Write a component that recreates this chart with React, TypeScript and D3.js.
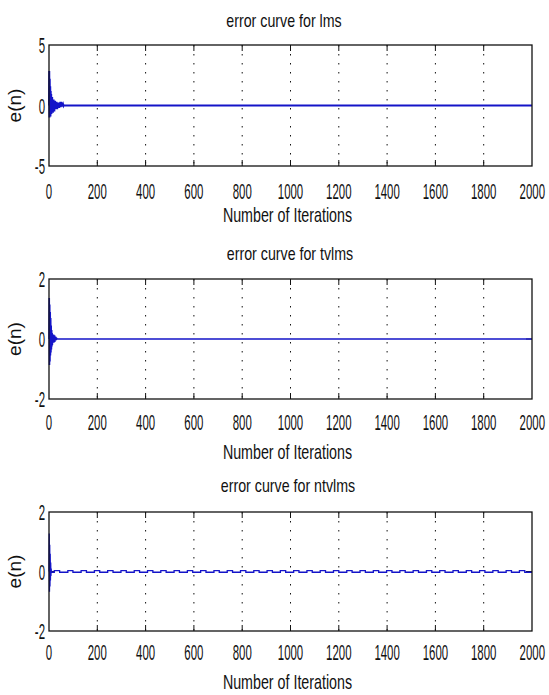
import * as d3 from 'd3'

const W = 549
const H = 695

const xTicks = [0, 200, 400, 600, 800, 1000, 1200, 1400, 1600, 1800, 2000]
const xEnd = 2000

// e(n) for the first iterations; after these the error is flat at 0
const lmsStart = [
  0, 2.85, -1.0, 2.2, -0.85, 1.6, -0.9, 1.2, -0.65, 0.95, -0.7, 0.6, -0.55, 0.7, -0.45, 0.5,
  -0.6, 0.4, -0.3, 0.5, -0.4, 0.3, -0.5, 0.2, -0.3, 0.4, -0.2, 0.3, -0.3, 0.2, -0.1, 0.3,
  -0.2, 0.2, -0.3, 0.1, -0.2, 0.25, -0.15, 0.2, -0.1, 0.15, -0.2, 0.1, -0.1, 0.25, -0.1, 0.3,
  -0.15, 0.25, -0.05, 0.3, -0.1, 0.2, -0.05, 0.25, -0.05, 0.1, -0.03, 0.05, -0.02, 0.02, 0, 0,
]
const tvlmsStart = [
  0, 1.37, -0.87, 1.15, -0.75, 0.9, -0.55, 0.7, -0.45, 0.45, -0.35, 0.3, -0.25, 0.2, -0.2,
  0.15, -0.12, 0.1, -0.1, 0.15, -0.12, 0.12, -0.08, 0.12, -0.1, 0.06, -0.05, 0.08, -0.05,
  0.04, -0.03, 0.02, -0.02, 0.01, 0,
]
const ntvlmsStart = [0, 1.28, -0.68, 0.9, -0.5, 0.6, -0.3, 0.3, -0.15, 0.1, -0.05, 0.02, -0.02]

// ntvlms keeps a small square ripple: [from, to] iterations where it sits at the upper level
const ntvlmsHigh: [number, number][] = [
  [22, 44], [78, 99], [133, 155], [188, 210], [243, 265], [298, 320], [353, 375], [408, 430],
  [463, 485], [518, 540], [573, 595], [628, 650], [683, 705], [738, 760], [793, 815], [848, 870],
  [903, 925], [958, 980], [1013, 1035], [1068, 1090], [1123, 1145], [1178, 1200], [1233, 1255],
  [1288, 1310], [1343, 1365], [1398, 1420], [1453, 1475], [1508, 1530], [1563, 1585], [1618, 1640],
  [1673, 1695], [1728, 1750], [1783, 1805], [1838, 1860], [1893, 1915], [1948, 1970],
]
const ntvlmsLevels = [-0.025, 0.03]

const titles = ['error curve for lms', 'error curve for tvlms', 'error curve for ntvlms']
const yTickSets = [[-5, 0, 5], [-2, 0, 2], [-2, 0, 2]]

const LINE = '#1414c8'
const INK = '#111'
const FONT = '"Liberation Sans", Arial, sans-serif'

type Pt = [number, number]

function startPts(vals: number[]): Pt[] {
  return vals.map((v, i) => [i, v] as Pt)
}

const lmsPts: Pt[] = [...startPts(lmsStart), [xEnd, 0]]
const tvlmsPts: Pt[] = [...startPts(tvlmsStart), [xEnd, 0]]
const ntvlmsSteady: Pt[] = [[ntvlmsStart.length, ntvlmsLevels[0]]]
ntvlmsHigh.forEach(([a, b]) => {
  ntvlmsSteady.push([a, ntvlmsLevels[0]], [a, ntvlmsLevels[1]], [b, ntvlmsLevels[1]], [b, ntvlmsLevels[0]])
})
ntvlmsSteady.push([xEnd, ntvlmsLevels[0]])
const ntvlmsPts: Pt[] = [...startPts(ntvlmsStart), ...ntvlmsSteady]

const panels = [
  { pts: lmsPts, top: 45, bottom: 166, titleY: 27, titleX: 284, tickY: 199, labelY: 222, lw: 2 },
  { pts: tvlmsPts, top: 279, bottom: 399, titleY: 260, titleX: 290, tickY: 430, labelY: 459, lw: 1.6 },
  { pts: ntvlmsPts, top: 512, bottom: 631, titleY: 492, titleX: 288, tickY: 660, labelY: 689, lw: 1.3 },
]

const LEFT = 49
const RIGHT = 532

// the source picture is squeezed sideways, so every text is drawn narrow
function Narrow({ x, y, sx, size, anchor = 'middle', rotate = 0, children }: {
  x: number
  y: number
  sx: number
  size: number
  anchor?: string
  rotate?: number
  children: string
}) {
  return (
    <text transform={`translate(${x},${y}) rotate(${rotate}) scale(${sx},1)`} textAnchor={anchor}
      fontSize={size} fill={INK} fontFamily={FONT}>
      {children}
    </text>
  )
}

function Panel({ idx }: { idx: number }) {
  const p = panels[idx]
  const yt = yTickSets[idx]
  const x = d3.scaleLinear().domain([0, xEnd]).range([LEFT, RIGHT])
  const y = d3.scaleLinear().domain([yt[0], yt[yt.length - 1]]).range([p.bottom, p.top])
  const line = d3
    .line<Pt>()
    .x((d) => x(d[0]))
    .y((d) => y(d[1]))
  const midY = (p.top + p.bottom) / 2
  return (
    <g>
      <Narrow x={p.titleX} y={p.titleY} sx={0.79} size={18}>{titles[idx]}</Narrow>
      {xTicks.slice(1, -1).map((t) => (
        <g key={t}>
          <line x1={x(t)} x2={x(t)} y1={p.top} y2={p.bottom} stroke="#111" strokeWidth={1}
            strokeDasharray="1.5,7.5" />
          <line x1={x(t)} x2={x(t)} y1={p.top} y2={p.top + 6} stroke="#111" />
          <line x1={x(t)} x2={x(t)} y1={p.bottom - 6} y2={p.bottom} stroke="#111" />
        </g>
      ))}
      {yt.slice(1, -1).map((t) => (
        <g key={t}>
          <line x1={LEFT} x2={LEFT + 6} y1={y(t)} y2={y(t)} stroke="#111" />
          <line x1={RIGHT - 6} x2={RIGHT} y1={y(t)} y2={y(t)} stroke="#111" />
        </g>
      ))}
      <path d={line(p.pts) ?? ''} fill="none" stroke={LINE} strokeWidth={p.lw} strokeLinejoin="miter" />
      <rect x={LEFT} y={p.top} width={RIGHT - LEFT} height={p.bottom - p.top} fill="none" stroke="#111"
        strokeWidth={1.3} />
      {xTicks.map((t) => {
        const last = t === xEnd
        return (
          <Narrow key={t} x={last ? 545 : x(t)} y={p.tickY} sx={0.52} size={22} anchor={last ? 'end' : 'middle'}>
            {String(t)}
          </Narrow>
        )
      })}
      {yt.map((t) => (
        <Narrow key={t} x={45} y={y(t) + 8} sx={0.52} size={22} anchor="end">
          {String(t)}
        </Narrow>
      ))}
      <Narrow x={21} y={midY} sx={1} size={19} rotate={-90}>e(n)</Narrow>
      <Narrow x={287.5} y={p.labelY} sx={0.68} size={21}>Number of Iterations</Narrow>
    </g>
  )
}

export default function App() {
  return (
    <svg width={W} height={H} style={{ position: 'absolute', left: 0, top: 0, background: '#fff' }}>
      {panels.map((_, i) => (
        <Panel key={i} idx={i} />
      ))}
    </svg>
  )
}
